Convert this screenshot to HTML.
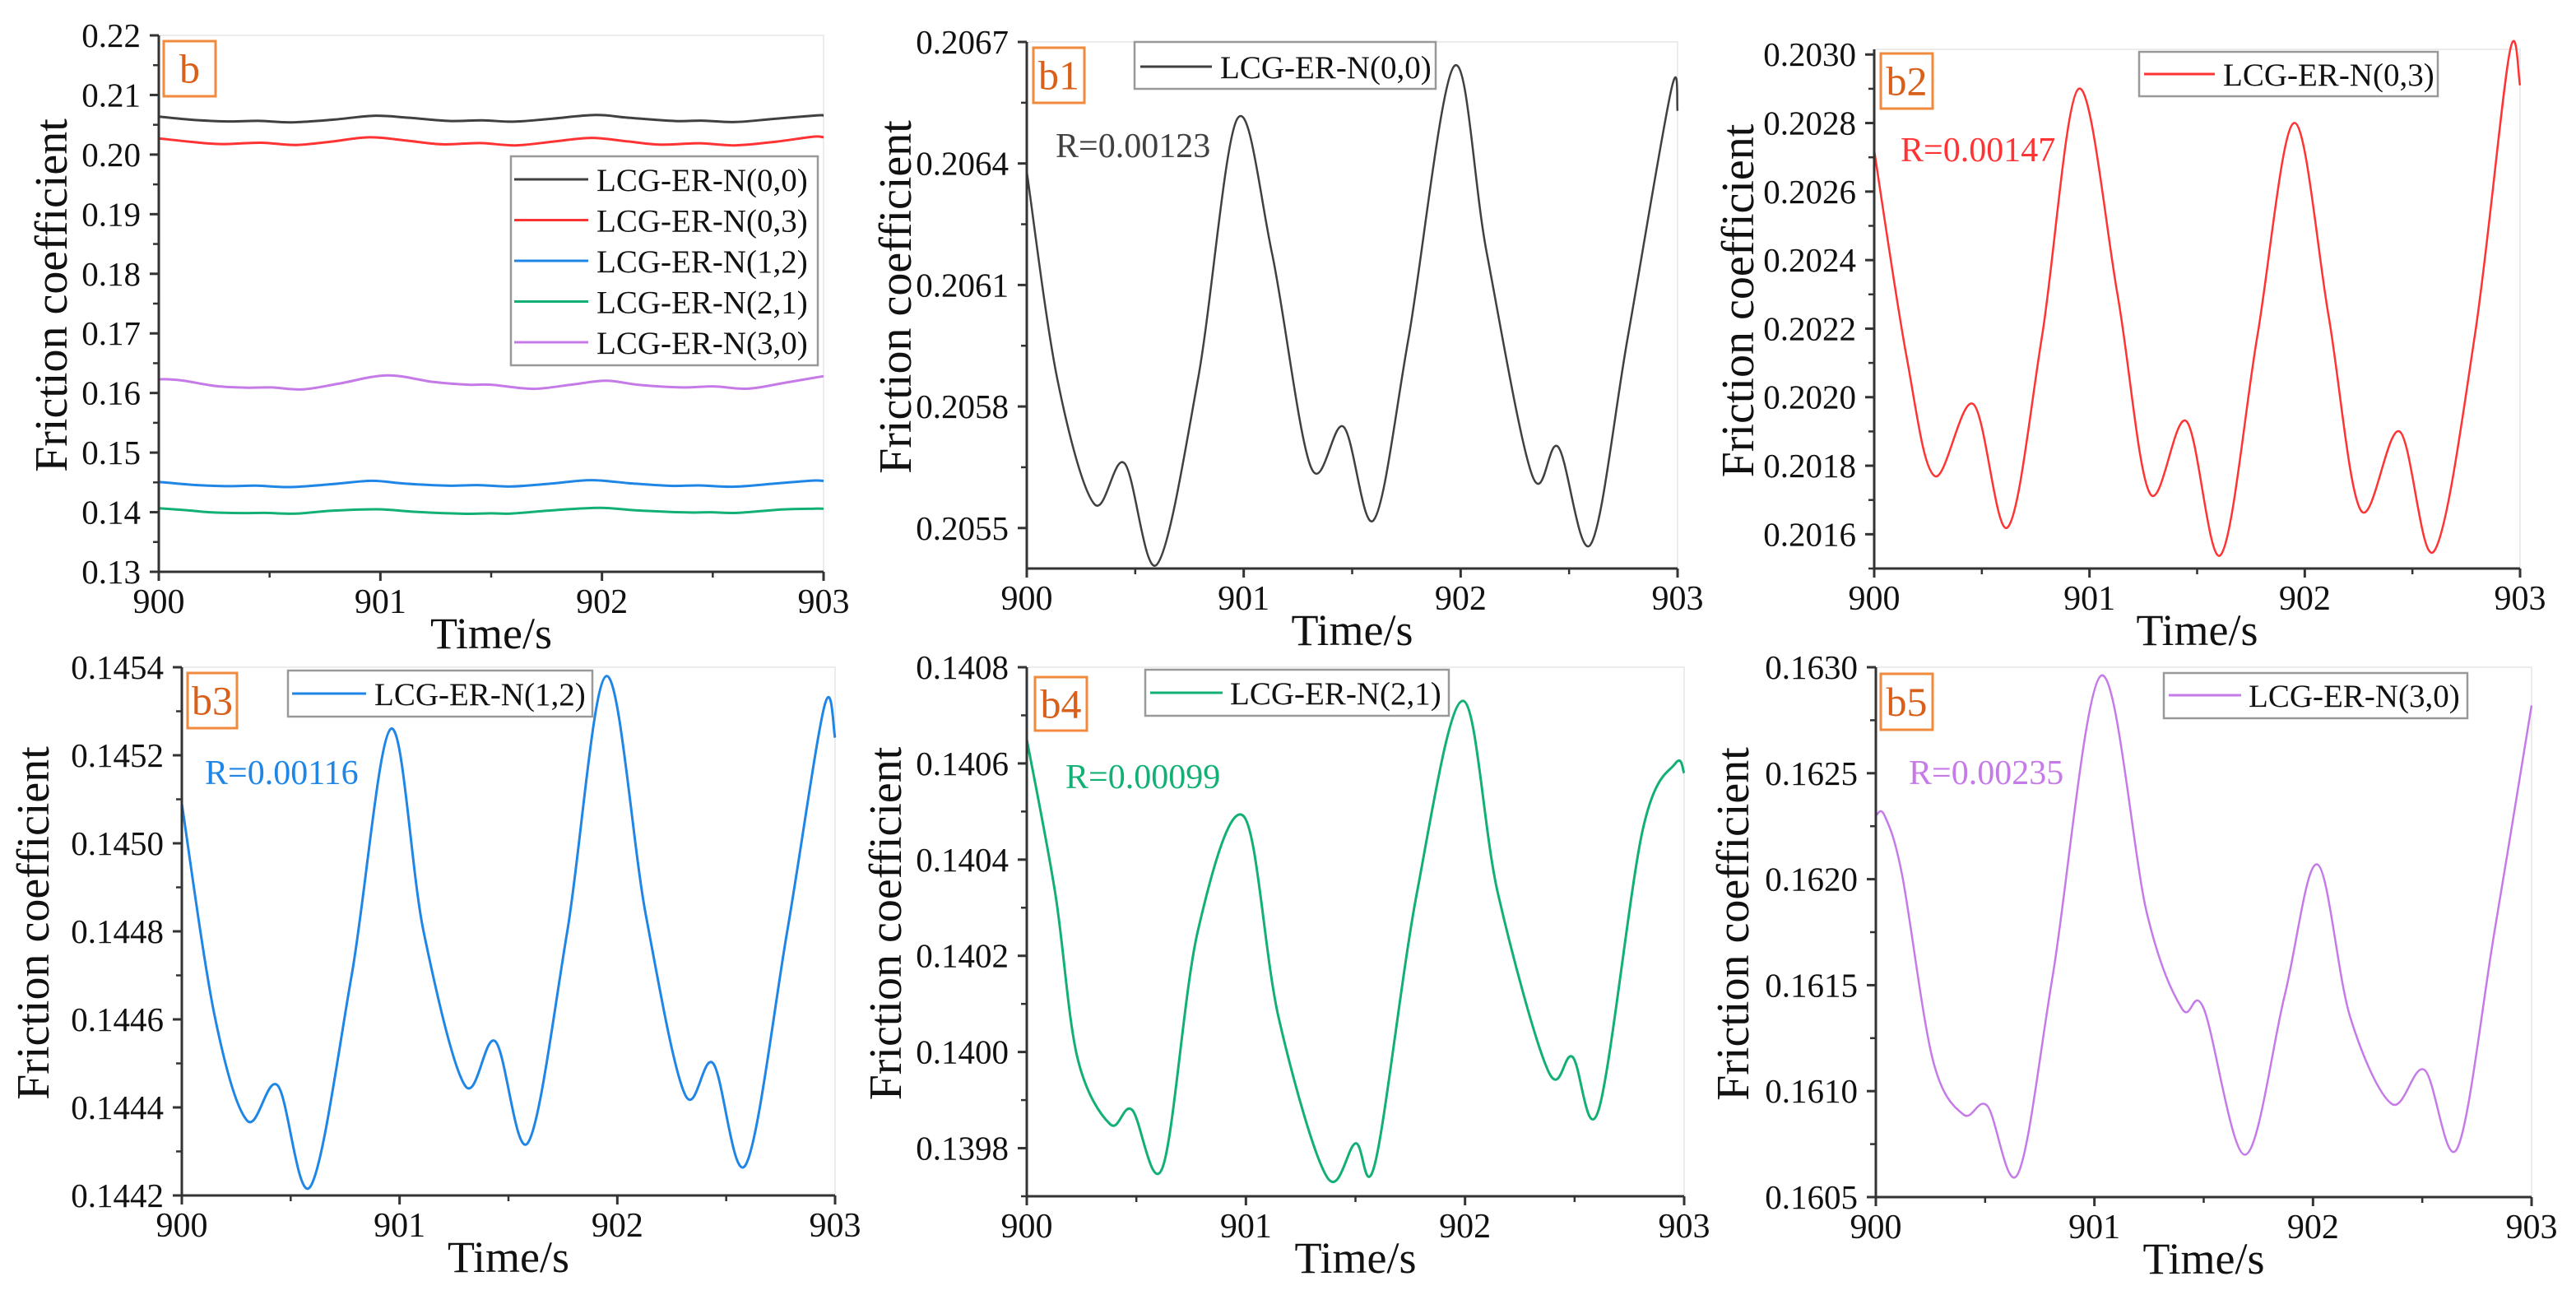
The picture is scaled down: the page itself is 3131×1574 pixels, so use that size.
<!DOCTYPE html>
<html><head><meta charset="utf-8"><style>
html,body{margin:0;padding:0;background:#fff;}
svg{display:block;}
svg text{font-family:"Liberation Serif","Times New Roman",serif;}
</style></head><body>
<svg id="fig" width="3131" height="1574" viewBox="0 0 3131 1574" xmlns="http://www.w3.org/2000/svg" font-family="Liberation Serif, serif"></svg>
<script>
// ---- data (time s, friction coefficient) ----
const tB1 = [900,900.14,900.31,900.45,900.60,900.79,900.97,901.13,901.31,901.46,901.60,901.76,901.97,902.12,902.33,902.45,902.60,902.77,902.97,903];
const vB1 = [0.20638,0.20587,0.20556,0.20566,0.20541,0.20587,0.20651,0.20618,0.20565,0.20575,0.20552,0.20597,0.20664,0.20618,0.20563,0.20570,0.20546,0.20597,0.20658,0.20653];
const tB2 = [900,900.15,900.28,900.46,900.62,900.78,900.95,901.13,901.28,901.45,901.61,901.78,901.95,902.11,902.26,902.44,902.60,902.79,902.95,903];
const vB2 = [0.20272,0.20212,0.20177,0.20198,0.20162,0.20218,0.20290,0.20230,0.20172,0.20193,0.20154,0.20218,0.20280,0.20224,0.20167,0.20190,0.20155,0.20218,0.20300,0.20291];
const tB3 = [900,900.15,900.30,900.44,900.59,900.78,900.96,901.11,901.30,901.44,901.59,901.77,901.95,902.13,902.31,902.44,902.59,902.78,902.95,903];
const vB3 = [0.14509,0.14461,0.14437,0.14445,0.14422,0.14470,0.14526,0.14480,0.14445,0.14455,0.14432,0.14480,0.14538,0.14484,0.14443,0.14450,0.14427,0.14480,0.14531,0.14524];
const tB4 = [900,900.13,900.23,900.38,900.48,900.62,900.78,900.99,901.15,901.37,901.50,901.59,901.78,901.99,902.15,902.38,902.49,902.61,902.81,902.96,903];
const vB4 = [0.14065,0.14033,0.13999,0.13985,0.13988,0.13976,0.14025,0.14049,0.14007,0.13974,0.13981,0.13977,0.14033,0.14073,0.14033,0.13996,0.13999,0.13988,0.14046,0.14060,0.14058];
const tB5 = [900,900.04,900.12,900.26,900.40,900.51,900.65,900.81,901.03,901.24,901.40,901.50,901.69,901.87,902.02,902.17,902.36,902.51,902.66,902.83,903];
const vB5 = [0.16230,0.16230,0.16202,0.16115,0.16089,0.16093,0.16061,0.16155,0.16296,0.16184,0.16139,0.16139,0.16070,0.16145,0.16207,0.16135,0.16094,0.16110,0.16073,0.16175,0.16282];
const seriesNames = ["LCG-ER-N(0,0)","LCG-ER-N(0,3)","LCG-ER-N(1,2)","LCG-ER-N(2,1)","LCG-ER-N(3,0)"];
const rValues = ["R=0.00123","R=0.00147","R=0.00116","R=0.00099","R=0.00235"];
const xTicks = [900,901,902,903];
const yTicksB = [0.13,0.14,0.15,0.16,0.17,0.18,0.19,0.20,0.21,0.22];
const yTicksB1 = [0.2055,0.2058,0.2061,0.2064,0.2067];
const yTicksB2 = [0.2016,0.2018,0.2020,0.2022,0.2024,0.2026,0.2028,0.2030];
const yTicksB3 = [0.1442,0.1444,0.1446,0.1448,0.1450,0.1452,0.1454];
const yTicksB4 = [0.1398,0.1400,0.1402,0.1404,0.1406,0.1408];
const yTicksB5 = [0.1605,0.1610,0.1615,0.1620,0.1625,0.1630];

// ---- layout ----
const colors = ["#404040","#ff3333","#1f86e6","#12b074","#c57ae8"];
const svg = document.getElementById('fig');
const NS = "http://www.w3.org/2000/svg";
const FONT = '"Liberation Serif", serif';
function el(tag, attrs, parent){const e=document.createElementNS(NS,tag);for(const k in attrs)e.setAttribute(k,attrs[k]);(parent||svg).appendChild(e);return e;}
function txt(s, attrs, parent){attrs['font-family']=FONT;const e=el('text',attrs,parent);e.textContent=s;return e;}

function spline(pts){
  let d="M"+pts[0][0].toFixed(1)+","+pts[0][1].toFixed(1);
  for(let i=0;i<pts.length-1;i++){
    const p0=pts[Math.max(0,i-1)],p1=pts[i],p2=pts[i+1],p3=pts[Math.min(pts.length-1,i+2)];
    const c1=[p1[0]+(p2[0]-p0[0])/6,p1[1]+(p2[1]-p0[1])/6];
    const c2=[p2[0]-(p3[0]-p1[0])/6,p2[1]-(p3[1]-p1[1])/6];
    d+=" C"+c1[0].toFixed(1)+","+c1[1].toFixed(1)+" "+c2[0].toFixed(1)+","+c2[1].toFixed(1)+" "+p2[0].toFixed(1)+","+p2[1].toFixed(1);
  }
  return d;
}

function panel(cfg){
  const g=el('g',{});
  
  
  const X=t=>cfg.x0+(t-900)/3*(cfg.x1-cfg.x0);
  const Y=v=>cfg.y1-(v-cfg.vmin)/(cfg.vmax-cfg.vmin)*(cfg.y1-cfg.y0);
  const fr=el('rect',{x:cfg.x0,y:cfg.y0,width:cfg.x1-cfg.x0,height:cfg.y1-cfg.y0,fill:'none',stroke:'#ececec','stroke-width':2},g);
  
  
  cfg.series.forEach(s=>{
    const pts=s.t.map((t,i)=>[X(t),Y(s.v[i])]);
    const p=el('path',{d:spline(pts),fill:'none',stroke:colors[s.c],'stroke-width':cfg.lw,'stroke-linejoin':'round'},g);
    
    
  });
  const ax=el('path',{d:`M${cfg.x0},${cfg.y0} V${cfg.y1} H${cfg.x1}`,fill:'none',stroke:'#333','stroke-width':3},g);
  
  
  xTicks.forEach((t,i)=>{
    const x=X(t);
    el('line',{x1:x,y1:cfg.y1,x2:x,y2:cfg.y1+11,stroke:'#333','stroke-width':3},g);
    if(i<xTicks.length-1) el('line',{x1:X(t+0.5),y1:cfg.y1,x2:X(t+0.5),y2:cfg.y1+7,stroke:'#333','stroke-width':2.5},g);
    const l=txt(String(t),{x:x,y:cfg.y1+50,'font-size':42,'text-anchor':'middle',fill:'#111'},g);
    
    
  });
  const yt=cfg.yticks, step=yt[1]-yt[0];
  yt.forEach((v,i)=>{
    const y=Y(v);
    el('line',{x1:cfg.x0-11,y1:y,x2:cfg.x0,y2:y,stroke:'#333','stroke-width':3},g);
    const m=v+step/2;
    if(m<=cfg.vmax+1e-9) el('line',{x1:cfg.x0-7,y1:Y(m),x2:cfg.x0,y2:Y(m),stroke:'#333','stroke-width':2.5},g);
    if(i===0 && v-step/2>=cfg.vmin) el('line',{x1:cfg.x0-7,y1:Y(v-step/2),x2:cfg.x0,y2:Y(v-step/2),stroke:'#333','stroke-width':2.5},g);
    const l=txt(v.toFixed(cfg.dec),{x:cfg.x0-22,y:y+14,'font-size':41,'text-anchor':'end',fill:'#111'},g);
    
    
  });
  const xt=txt('Time/s',{x:(cfg.x0+cfg.x1)/2,y:cfg.y1+93,'font-size':54,'text-anchor':'middle',fill:'#111'},g);
  
  
  const ycy=(cfg.y0+cfg.y1)/2-10;
  const ytt=txt('Friction coefficient',{x:0,y:0,'font-size':56,'text-anchor':'middle',fill:'#111',transform:`translate(${cfg.ytx+19},${ycy}) rotate(-90)`},g);
  
  
  const lb=el('rect',{x:cfg.lab[0],y:cfg.lab[1],width:cfg.lab[2],height:cfg.lab[3],fill:'#fff',stroke:'#f08a3c','stroke-width':3},g);
  
  
  const lt=txt(cfg.label,{x:cfg.lab[0]+cfg.lab[2]/2,y:cfg.lab[1]+cfg.lab[3]/2+17,'font-size':50,'text-anchor':'middle',fill:'#d9601a'},g);
  
  
  if(cfg.r){
    const r=txt(cfg.r.s,{x:cfg.r.x,y:cfg.r.y+15,'font-size':42,fill:colors[cfg.r.c]},g);
    
    
  }
  const L=cfg.leg;
  const lbx=el('rect',{x:L.x,y:L.y,width:L.w,height:L.h,fill:'#fff',stroke:'#999','stroke-width':2.5},g);
  
  
  L.items.forEach((c,i)=>{
    const cy=L.first+i*L.gap;
    const eg=el('g',{},g);
    
    
    el('line',{x1:L.lx0,y1:cy,x2:L.lx1,y2:cy,stroke:colors[c],'stroke-width':3},eg);
    txt(seriesNames[c],{x:L.tx,y:cy+14,'font-size':39,fill:'#111'},eg);
  });
}

panel({name:'panel-b',label:'b',x0:193,x1:1001,y0:43,y1:695,vmin:0.13,vmax:0.22,yticks:yTicksB,dec:2,lw:3,ytx:62,
  lab:[199,50,63,67],
  series:[{t:tB1,v:vB1,c:0},{t:tB2,v:vB2,c:1},{t:tB3,v:vB3,c:2},{t:tB4,v:vB4,c:3},{t:tB5,v:vB5,c:4}],
  leg:{x:621,y:190,w:373,h:254,items:[0,1,2,3,4],first:218,gap:49.5,lx0:625,lx1:715,tx:725}});
panel({name:'panel-b1',label:'b1',x0:1248,x1:2039,y0:51,y1:691,vmin:0.20540,vmax:0.20670,yticks:yTicksB1,dec:4,lw:2.5,ytx:1088,
  lab:[1256,58,62,67],series:[{t:tB1,v:vB1,c:0}],r:{s:rValues[0],x:1283,y:176,c:0},
  leg:{x:1379,y:51,w:366,h:57,items:[0],first:81,gap:0,lx0:1386,lx1:1473,tx:1483}});
panel({name:'panel-b2',label:'b2',x0:2278,x1:3063,y0:60,y1:691,vmin:0.20150,vmax:0.203015,yticks:yTicksB2,dec:4,lw:2.5,ytx:2112,
  lab:[2286,65,63,67],series:[{t:tB2,v:vB2,c:1}],r:{s:rValues[1],x:2310,y:181,c:1},
  leg:{x:2600,y:63,w:363,h:54,items:[1],first:90,gap:0,lx0:2606,lx1:2692,tx:2702}});
panel({name:'panel-b3',label:'b3',x0:221,x1:1015,y0:811,y1:1453,vmin:0.1442,vmax:0.1454,yticks:yTicksB3,dec:4,lw:3,ytx:40,
  lab:[228,818,60,67],series:[{t:tB3,v:vB3,c:2}],r:{s:rValues[2],x:249,y:938,c:2},
  leg:{x:350,y:815,w:370,h:56,items:[2],first:843,gap:0,lx0:355,lx1:445,tx:455}});
panel({name:'panel-b4',label:'b4',x0:1248,x1:2047,y0:811,y1:1454,vmin:0.13970,vmax:0.1408,yticks:yTicksB4,dec:4,lw:3,ytx:1076,
  lab:[1258,823,63,65],series:[{t:tB4,v:vB4,c:3}],r:{s:rValues[3],x:1295,y:943,c:3},
  leg:{x:1392,y:814,w:369,h:56,items:[3],first:842,gap:0,lx0:1398,lx1:1486,tx:1495}});
panel({name:'panel-b5',label:'b5',x0:2280,x1:3077,y0:811,y1:1455,vmin:0.1605,vmax:0.1630,yticks:yTicksB5,dec:4,lw:2.5,ytx:2106,
  lab:[2286,819,63,68],series:[{t:tB5,v:vB5,c:4}],r:{s:rValues[4],x:2320,y:938,c:4},
  leg:{x:2630,y:818,w:369,h:55,items:[4],first:845,gap:0,lx0:2636,lx1:2724,tx:2733}});
</script>
</body></html>
